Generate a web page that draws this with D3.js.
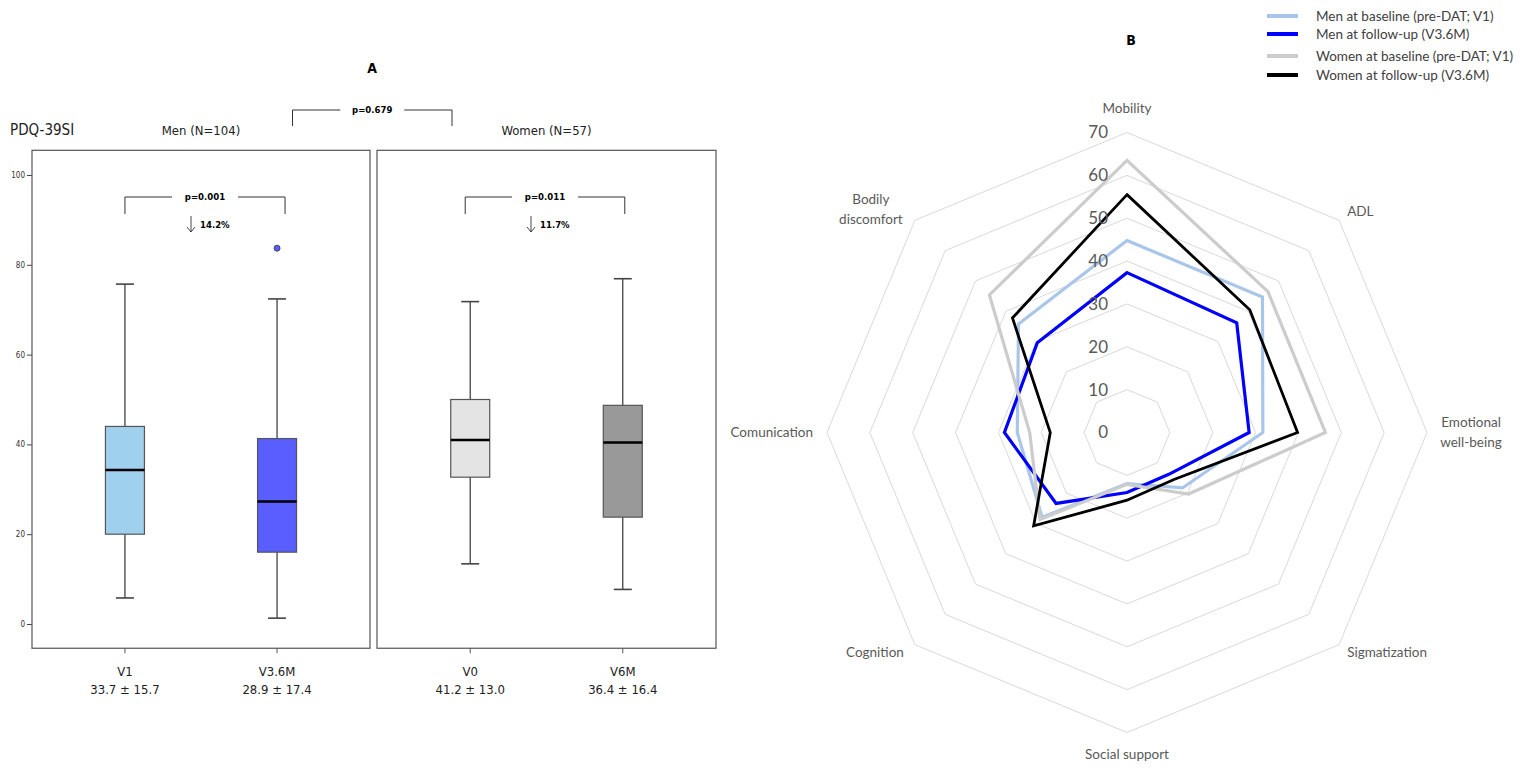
<!DOCTYPE html>
<html>
<head>
<meta charset="utf-8">
<script src="https://cdn.jsdelivr.net/npm/d3@7"></script>
<style>
	body { margin: 0; background: #fff; }
	svg { display: block; }
	.narrow { font-family: "Liberation Sans Narrow", "Arial Narrow", "DejaVu Sans Condensed", sans-serif; }
	.calibri { font-family: Lato, "Open Sans", sans-serif; }
</style>
</head>
<body>
<svg id="chart" width="1535" height="771"></svg>
<script>
// ---- Panel A: PDQ-39SI box plots ----
const visits = ["V1", "V3.6M", "V0", "V6M"];
const meanSd = ["33.7 ± 15.7", "28.9 ± 17.4", "41.2 ± 13.0", "36.4 ± 16.4"];
const whiskerLow = [5.8, 1.3, 13.4, 7.7];
const q1 = [20.0, 16.0, 32.7, 23.8];
const median = [34.3, 27.3, 41.0, 40.4];
const q3 = [44.0, 41.3, 50.0, 48.7];
const whiskerHigh = [75.7, 72.4, 71.8, 76.9];
const outliers = [[], [83.7], [], []];
const boxColors = ["#9fd1ef", "#5a5eff", "#e4e4e4", "#999999"];
const yTicks = [0, 20, 40, 60, 80, 100];

const groups = ["Men (N=104)", "Women (N=57)"];
const groupVisits = [["V1", "V3.6M"], ["V0", "V6M"]];
const withinP = ["p=0.001", "p=0.011"];
const withinDrop = ["14.2%", "11.7%"];
const betweenP = "p=0.679";

// ---- Panel B: radar of PDQ-39 domains ----
const domains = ["Mobility", "ADL", "Emotional well-being", "Sigmatization",
	"Social support", "Cognition", "Comunication", "Bodily discomfort"];
const menBaseline = [44.8, 44.7, 31.7, 18.3, 11.9, 28.0, 25.6, 35.8];
const menFollowup = [37.3, 36.2, 28.5, 13.8, 14.0, 23.4, 28.6, 29.6];
const womenBaseline = [63.5, 46.5, 46.3, 20.3, 12.1, 28.7, 22.7, 45.4];
const womenFollowup = [55.5, 40.5, 39.8, 15.5, 15.8, 30.8, 17.9, 37.8];
const seriesNames = ["Men at baseline (pre-DAT; V1)", "Men at follow-up (V3.6M)",
	"Women at baseline (pre-DAT; V1)", "Women at follow-up (V3.6M)"];
const seriesColors = ["#a9c6ea", "#0000ff", "#cccccc", "#000000"];
const radarTicks = [0, 10, 20, 30, 40, 50, 60, 70];

const svg = d3.select("#chart");

// ================= Panel A =================
const y = d3.scaleLinear().domain([0, 100]).range([624, 175]);
const frameTop = y(105.5), frameBottom = y(-5.4);
const panels = [[32, 370], [377, 716]];
// bracket ends are not exactly over the box centres in the original
const bracketShift = [[0, 8], [-5, 2]];

const A = svg.append("g").attr("class", "narrow");

A.append("text").attr("x", 372).attr("y", 68).attr("dy", ".35em")
	.attr("text-anchor", "middle").attr("font-weight", "bold").attr("font-size", 14)
	.text("A");

A.append("text").attr("x", 10).attr("y", 130).attr("dy", ".35em")
	.attr("font-size", 15).attr("fill", "#222").text("PDQ-39SI");

// y axis on the left panel
const yAxis = A.append("g").attr("transform", `translate(${panels[0][0]},0)`)
	.call(d3.axisLeft(y).tickValues(yTicks).tickSize(5).tickPadding(2));
yAxis.select(".domain").remove();
yAxis.selectAll("line").attr("stroke", "#444");
yAxis.selectAll("text").attr("font-size", 8).attr("fill", "#333")
	.attr("font-family", "'Liberation Sans Narrow', 'DejaVu Sans Condensed', sans-serif");

const xScales = panels.map((p, i) => d3.scalePoint()
	.domain(groupVisits[i]).range(p).padding(0.611));

function bracket(g, x1, x2, yTop, yBot, label, gap, fs) {
	const mid = (x1 + x2) / 2;
	g.append("path")
		.attr("d", `M${x1},${yBot}V${yTop}H${mid - gap}M${mid + gap},${yTop}H${x2}V${yBot}`)
		.attr("fill", "none").attr("stroke", "#333").attr("stroke-width", 1);
	g.append("text").attr("x", mid).attr("y", yTop).attr("dy", ".35em")
		.attr("text-anchor", "middle").attr("font-weight", "bold").attr("font-size", fs)
		.text(label);
}

panels.forEach((p, i) => {
	const x = xScales[i];
	const g = A.append("g");

	g.append("rect").attr("x", p[0]).attr("y", frameTop)
		.attr("width", p[1] - p[0]).attr("height", frameBottom - frameTop)
		.attr("fill", "none").attr("stroke", "#555").attr("stroke-width", 1.2);

	g.append("text").attr("x", (p[0] + p[1]) / 2).attr("y", 130).attr("dy", ".35em")
		.attr("text-anchor", "middle").attr("font-size", 13).attr("fill", "#222")
		.text(groups[i]);

	// bottom ticks + labels
	groupVisits[i].forEach(v => {
		const k = visits.indexOf(v);
		g.append("line").attr("x1", x(v)).attr("x2", x(v))
			.attr("y1", frameBottom).attr("y2", frameBottom + 5).attr("stroke", "#555");
		g.append("text").attr("x", x(v)).attr("y", 671).attr("dy", ".35em")
			.attr("text-anchor", "middle").attr("font-size", 13).attr("fill", "#222").text(v);
		g.append("text").attr("x", x(v)).attr("y", 689).attr("dy", ".35em")
			.attr("text-anchor", "middle").attr("font-size", 13).attr("fill", "#222").text(meanSd[k]);

		const bw = 39, cw = 18;
		// whisker
		g.append("line").attr("x1", x(v)).attr("x2", x(v))
			.attr("y1", y(whiskerLow[k])).attr("y2", y(whiskerHigh[k]))
			.attr("stroke", "#333").attr("stroke-width", 1.2);
		[whiskerLow[k], whiskerHigh[k]].forEach(w => {
			g.append("line").attr("x1", x(v) - cw / 2).attr("x2", x(v) + cw / 2)
				.attr("y1", y(w)).attr("y2", y(w)).attr("stroke", "#444").attr("stroke-width", 1.6);
		});
		g.append("rect").attr("x", x(v) - bw / 2).attr("y", y(q3[k]))
			.attr("width", bw).attr("height", y(q1[k]) - y(q3[k]))
			.attr("fill", boxColors[k]).attr("stroke", "#555").attr("stroke-width", 1.2);
		g.append("line").attr("x1", x(v) - bw / 2).attr("x2", x(v) + bw / 2)
			.attr("y1", y(median[k])).attr("y2", y(median[k]))
			.attr("stroke", "#000").attr("stroke-width", 2.5);
		outliers[k].forEach(o => {
			g.append("circle").attr("cx", x(v)).attr("cy", y(o)).attr("r", 3)
				.attr("fill", boxColors[k]).attr("stroke", "#333").attr("stroke-width", 0.8);
		});
	});

	// within-group comparison
	const bx1 = x(groupVisits[i][0]) + bracketShift[i][0];
	const bx2 = x(groupVisits[i][1]) + bracketShift[i][1];
	bracket(g, bx1, bx2, 197, 214, withinP[i], 33, 9.5);
	const ax = (bx1 + bx2) / 2 - 14;
	g.append("path").attr("d", `M${ax},216V232M${ax - 4},227L${ax},232L${ax + 4},227`)
		.attr("fill", "none").attr("stroke", "#333").attr("stroke-width", 0.9);
	g.append("text").attr("x", ax + 9).attr("y", 225).attr("dy", ".35em")
		.attr("font-weight", "bold").attr("font-size", 9.5).text(withinDrop[i]);
});

// between-group comparison
bracket(A, 292.5, 452, 110, 126, betweenP, 32, 9.5);

// ================= Panel B =================
const cx = 1127, cy = 432.5;
const r = d3.scaleLinear().domain([0, 70]).range([0, 300]);
const angle = i => i * 2 * Math.PI / domains.length;
const pt = (i, v) => [cx + r(v) * Math.sin(angle(i)), cy - r(v) * Math.cos(angle(i))];

const B = svg.append("g").attr("class", "calibri");

B.append("text").attr("x", 1131).attr("y", 40).attr("dy", ".35em")
	.attr("text-anchor", "middle").attr("font-weight", "bold").attr("font-size", 14)
	.attr("font-family", "'Liberation Sans Narrow', 'DejaVu Sans Condensed', sans-serif")
	.text("B");

const line = d3.line().curve(d3.curveLinearClosed);

// grid rings
radarTicks.filter(t => t > 0).forEach(t => {
	B.append("path").attr("d", line(domains.map((d, i) => pt(i, t))))
		.attr("fill", "none").attr("stroke", "#d9d9d9").attr("stroke-width", 1);
});

// series
[menBaseline, menFollowup, womenBaseline, womenFollowup].forEach((s, k) => {
	B.append("path").attr("d", line(s.map((v, i) => pt(i, v))))
		.attr("fill", "none").attr("stroke", seriesColors[k])
		.attr("stroke-width", k === 3 ? 2.8 : 3.2).attr("stroke-linejoin", "miter");
});

// value labels
radarTicks.forEach(t => {
	B.append("text").attr("x", cx - 19).attr("y", cy - r(t)).attr("dy", ".35em")
		.attr("text-anchor", "end").attr("font-size", 17).attr("fill", "#595959")
		.text(t);
});

// category labels: [anchor, dx, dy] relative to outer vertex
const labelPlace = [
	["middle", 0, -24], ["start", 8, -9], ["middle", 44, 0], ["start", 8, 8],
	["middle", 0, 22], ["end", -11, 8], ["end", -14, 0], ["end", -10, -11]
];
domains.forEach((d, i) => {
	const [px, py] = pt(i, 70);
	const [anchor, dx, dy] = labelPlace[i];
	const words = d.split(" ");
	const lines = (d === "Emotional well-being" || d === "Bodily discomfort")
		? [words[0], words.slice(1).join(" ")] : [d];
	const t = B.append("text").attr("text-anchor", anchor)
		.attr("font-size", 13.5).attr("fill", "#595959");
	lines.forEach((l, j) => {
		t.append("tspan").attr("x", px + dx)
			.attr("y", py + dy + (j - (lines.length - 1) / 2) * 19.5)
			.attr("dy", ".35em").text(l);
	});
	if (d === "Bodily discomfort") t.selectAll("tspan").attr("text-anchor", "middle").attr("x", px - 44);
});

// legend
const legendRows = [16, 34, 56, 75];
seriesNames.forEach((n, k) => {
	B.append("line").attr("x1", 1267).attr("x2", 1298)
		.attr("y1", legendRows[k]).attr("y2", legendRows[k])
		.attr("stroke", seriesColors[k]).attr("stroke-width", 4);
	B.append("text").attr("x", 1316).attr("y", legendRows[k]).attr("dy", ".35em")
		.attr("font-size", 13.5).attr("fill", "#404040").text(n);
});
</script>
</body>
</html>
